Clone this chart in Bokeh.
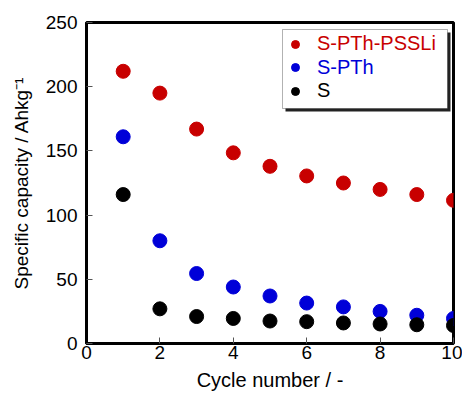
from bokeh.plotting import figure
from bokeh.models import Legend, LegendItem, BoxAnnotation, FixedTicker, Range1d
from bokeh.embed import file_html
from bokeh.resources import INLINE

cycles = [1, 2, 3, 4, 5, 6, 7, 8, 9, 10]
s_pth_pssli = [212, 195, 167, 148.5, 138, 130.5, 125, 120, 116, 111.5]
s_pth = [161, 80, 54.5, 44, 37, 31.5, 28.5, 25, 22, 19.5]
s_only = [116, 27, 21, 19.5, 17.5, 17, 16, 15.2, 14.6, 14]
series_names = ["S-PTh-PSSLi", "S-PTh", "S"]
series_colors = ["#c80000", "#0000d8", "#000000"]
x_ticks = [0, 2, 4, 6, 8, 10]
y_ticks = [0, 50, 100, 150, 200, 250]

FONT = "Liberation Sans"

p = figure(width=462, height=393, output_backend="svg", toolbar_location=None,
           x_range=Range1d(0, 10), y_range=Range1d(0, 250),
           min_border_left=86, min_border_right=9, min_border_top=22, min_border_bottom=47)
p.grid.visible = False
p.outline_line_color = "black"
p.outline_line_width = 3

for ax in (p.xaxis[0], p.yaxis[0]):
    ax.axis_line_width = 3
    ax.axis_line_color = "black"
    ax.major_tick_in = 6
    ax.major_tick_out = 0
    ax.major_tick_line_color = "#555555"
    ax.major_tick_line_width = 1
    ax.minor_tick_line_color = None
    ax.major_label_text_font = FONT
    ax.major_label_text_font_size = "19px"
    ax.major_label_text_color = "black"
    ax.axis_label_text_font = FONT
    ax.axis_label_text_font_style = "normal"
    ax.axis_label_text_color = "black"

p.xaxis.ticker = FixedTicker(ticks=x_ticks)
p.yaxis.ticker = FixedTicker(ticks=y_ticks)
p.xaxis.axis_label = "Cycle number / -"
p.yaxis.axis_label = "Specific capacity / Ahkg⁻¹"
p.xaxis.axis_label_text_font_size = "20px"
p.yaxis.axis_label_text_font_size = "19px"
p.xaxis.major_label_standoff = 2
p.yaxis.major_label_standoff = 9
p.xaxis.axis_label_standoff = 7
p.yaxis.axis_label_standoff = 11

renderers = []
for vals, col in zip([s_pth_pssli, s_pth, s_only], series_colors):
    r = p.scatter(cycles, vals, size=14, fill_color=col, line_color=col)
    renderers.append(r)

# legend box with shadow (screen units, measured from frame bottom-left)
shadow = BoxAnnotation(left=199, right=364, top=311, bottom=232,
                       left_units="screen", right_units="screen",
                       top_units="screen", bottom_units="screen",
                       fill_color="#222222", fill_alpha=1, line_color=None, level="overlay")
box = BoxAnnotation(left=196, right=361, top=314, bottom=235,
                    left_units="screen", right_units="screen",
                    top_units="screen", bottom_units="screen",
                    fill_color="white", fill_alpha=1, line_color="black", line_width=1, level="overlay")
p.add_layout(shadow)
p.add_layout(box)

item_y = [288, 264.5, 241]
for name, col, r, yy in zip(series_names, series_colors, renderers, item_y):
    lg = Legend(items=[LegendItem(label=name, renderers=[r])],
                location=(199, yy),
                background_fill_alpha=0, border_line_alpha=0,
                label_text_font=FONT, label_text_font_size="20px",
                label_text_color=col, glyph_width=20, glyph_height=20,
                padding=0, margin=0, label_standoff=12)
    p.add_layout(lg)

open("out.html", "w").write(file_html(p, INLINE))
